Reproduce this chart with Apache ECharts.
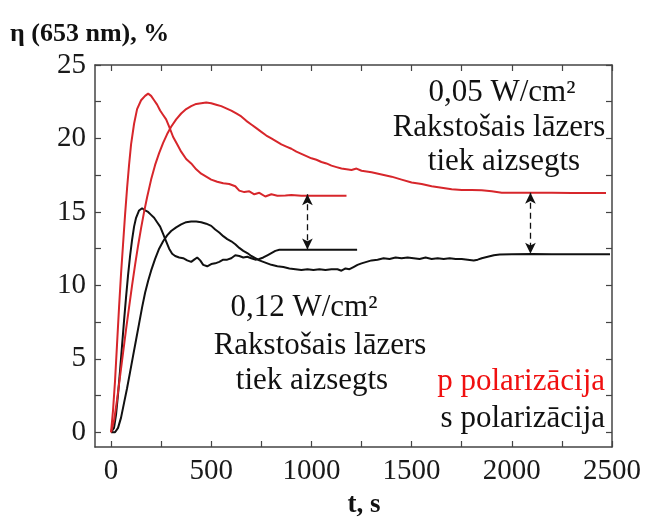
<!DOCTYPE html>
<html>
<head>
<meta charset="utf-8">
<title>η (653 nm)</title>
<script src="https://cdn.jsdelivr.net/npm/echarts@6.0.0/dist/echarts.min.js"></script>
<style>
  html, body { margin: 0; padding: 0; background: #fff; }
  #main { width: 649px; height: 524px; }
</style>
</head>
<body>
<div id="main"></div>
<script>
// axis ticks
const xLabels = [0, 500, 1000, 1500, 2000, 2500];
const xTicks = [0, 250, 500, 750, 1000, 1250, 1500, 1750, 2000, 2250, 2500];
const yLabels = [0, 5, 10, 15, 20, 25];
const yTicks = [0, 2.5, 5, 7.5, 10, 12.5, 15, 17.5, 20, 22.5, 25];

// p polarizacija, 0,12 W/cm2 (red, short)
const pFast = [[0,0],[10,1.5],[20,3.5],[30,6],[40,8.5],[50,10.8],[60,12.8],[70,14.8],[80,16.6],[90,18.2],[100,19.6],
  [115,21.0],[130,22.0],[150,22.6],[170,22.9],[185,23.05],[200,22.9],[215,22.6],[230,22.3],[245,21.9],[260,21.6],
  [275,21.3],[290,20.8],[310,20.1],[330,19.6],[350,19.1],[375,18.6],[400,18.3],[425,17.9],[450,17.6],[475,17.4],
  [500,17.2],[530,17.05],[560,16.95],[590,16.9],[620,16.75],[640,16.45],[665,16.35],[690,16.4],[715,16.2],[740,16.3],
  [770,16.05],[800,16.2],[830,16.1],[870,16.12],[900,16.15],[950,16.1],[1000,16.1],[1050,16.1],[1100,16.1],[1175,16.1]];

// p polarizacija, 0,05 W/cm2 (red, long)
const pSlow = [[0,0],[15,0.8],[30,2.2],[45,3.8],[60,5.4],[75,7.0],[90,8.5],[105,10.0],[120,11.4],[135,12.7],[150,13.9],
  [165,15.0],[180,16.0],[200,17.2],[220,18.2],[240,19.0],[260,19.7],[280,20.3],[300,20.8],[325,21.3],[350,21.7],
  [375,22.0],[400,22.2],[425,22.35],[450,22.4],[475,22.45],[500,22.4],[525,22.3],[550,22.2],[575,22.05],[600,21.9],
  [625,21.7],[650,21.5],[675,21.2],[700,20.95],[725,20.7],[750,20.45],[775,20.2],[800,20.0],[825,19.8],[850,19.6],
  [875,19.45],[900,19.3],[925,19.1],[950,18.95],[975,18.8],[1000,18.65],[1025,18.55],[1050,18.4],[1075,18.3],
  [1100,18.15],[1125,18.05],[1150,17.95],[1175,17.9],[1200,17.85],[1225,17.95],[1250,17.8],[1300,17.7],[1350,17.55],
  [1400,17.4],[1450,17.2],[1500,17.0],[1550,16.9],[1600,16.75],[1650,16.65],[1700,16.55],[1750,16.5],[1800,16.5],
  [1850,16.48],[1900,16.4],[1950,16.3],[2000,16.3],[2100,16.3],[2200,16.3],[2300,16.28],[2400,16.28],[2470,16.28]];

// s polarizacija, 0,12 W/cm2 (black, short)
const sFast = [[0,0],[15,0.3],[25,1.2],[35,2.6],[45,4.2],[55,5.9],[65,7.6],[75,9.2],[85,10.7],[95,12.0],[105,13.1],
  [115,14.0],[125,14.6],[140,15.1],[155,15.25],[170,15.1],[185,15.0],[200,14.8],[215,14.6],[230,14.3],[245,14.0],
  [260,13.5],[275,13.0],[290,12.5],[305,12.15],[320,12.0],[340,11.9],[360,11.85],[380,11.7],[400,11.6],[415,11.75],
  [430,11.9],[445,11.7],[460,11.4],[480,11.3],[500,11.45],[520,11.5],[540,11.6],[560,11.75],[580,11.75],[600,11.85],
  [620,12.05],[640,12.0],[660,11.9],[680,11.95],[700,11.85],[720,11.75],[740,11.8],[760,11.9],[780,12.05],[800,12.2],
  [820,12.35],[840,12.42],[900,12.42],[1000,12.42],[1100,12.42],[1228,12.42]];

// s polarizacija, 0,05 W/cm2 (black, long)
const sSlow = [[0,0],[20,0],[35,0.3],[50,1.0],[65,2.0],[80,3.0],[95,4.1],[110,5.2],[125,6.3],[140,7.4],[155,8.5],
  [170,9.5],[185,10.3],[200,11.0],[220,11.8],[240,12.5],[260,13.0],[280,13.4],[300,13.7],[325,13.95],[350,14.15],
  [375,14.3],[400,14.35],[425,14.35],[450,14.3],[475,14.2],[500,14.05],[520,13.8],[540,13.6],[560,13.35],[580,13.15],
  [600,13.0],[620,12.8],[640,12.55],[660,12.35],[680,12.2],[700,12.0],[720,11.85],[740,11.7],[760,11.6],[780,11.5],
  [800,11.4],[830,11.3],[860,11.25],[890,11.15],[920,11.1],[950,11.05],[980,11.1],[1010,11.05],[1040,11.1],
  [1070,11.05],[1100,11.1],[1130,11.1],[1150,11.0],[1170,11.15],[1190,11.1],[1210,11.25],[1230,11.4],[1250,11.5],
  [1275,11.6],[1300,11.7],[1330,11.75],[1360,11.85],[1390,11.8],[1420,11.9],[1450,11.85],[1480,11.9],[1510,11.85],
  [1540,11.8],[1570,11.9],[1600,11.8],[1630,11.85],[1660,11.8],[1690,11.85],[1720,11.8],[1750,11.8],[1780,11.75],
  [1810,11.7],[1830,11.75],[1850,11.85],[1880,11.95],[1910,12.05],[1940,12.1],[2000,12.12],[2100,12.13],
  [2200,12.12],[2300,12.12],[2400,12.12],[2490,12.12]];

// gap arrows: [t, top, bottom]
const gapArrows = [[980, 16.2, 12.45], [2093, 16.3, 12.15]];

var RED = "#d7262b";
var BLACK = "#111";
var FRAME = "#444";
var SERIF = "'Liberation Serif', 'Times New Roman', serif";

function frameAxis(pos, isX, showLabel) {
  var ax = {
    type: "value",
    position: pos,
    min: isX ? -80 : -1,
    max: isX ? 2500 : 25,
    axisLine: { show: true, onZero: false, lineStyle: { color: FRAME, width: 1.5 } },
    axisTick: {
      show: true, inside: true, length: 6,
      customValues: isX ? xTicks : yTicks,
      lineStyle: { color: FRAME, width: 1.2 }
    },
    axisLabel: {
      show: showLabel,
      customValues: isX ? xLabels : yLabels,
      formatter: function (v) { return String(v); },
      fontFamily: SERIF, fontSize: 29, color: "#1a1a1a",
      margin: isX ? 10 : 9
    },
    splitLine: { show: false }
  };
  return ax;
}

var chart = echarts.init(document.getElementById("main"), null, { renderer: "canvas" });
chart.setOption({
  backgroundColor: "#fff",
  animation: false,
  grid: { left: 95, right: 37, top: 65, bottom: 77, containLabel: false, outerBoundsMode: "none" },
  xAxis: [frameAxis("bottom", true, true), frameAxis("top", true, false)],
  yAxis: [frameAxis("left", false, true), frameAxis("right", false, false)],
  series: [
    {
      name: "s 0,05", type: "line", data: sSlow, showSymbol: false,
      lineStyle: { color: BLACK, width: 2 }, z: 2,
      markLine: {
        silent: true,
        symbol: ["arrow", "arrow"],
        symbolSize: [8, 11],
        label: { show: false },
        lineStyle: { color: BLACK, width: 1.3, type: [6, 4] },
        data: gapArrows.map(function (a) {
          return [{ coord: [a[0], a[1]] }, { coord: [a[0], a[2]] }];
        })
      }
    },
    { name: "s 0,12", type: "line", data: sFast, showSymbol: false, lineStyle: { color: BLACK, width: 2 }, z: 2 },
    { name: "p 0,05", type: "line", data: pSlow, showSymbol: false, lineStyle: { color: RED, width: 2 }, z: 3 },
    { name: "p 0,12", type: "line", data: pFast, showSymbol: false, lineStyle: { color: RED, width: 2 }, z: 3 }
  ],
  graphic: [
    { type: "text", x: 10, y: 34, style: { text: "η (653 nm), %", font: "bold 26px " + SERIF, fill: "#111", verticalAlign: "middle" } },
    { type: "text", x: 364, y: 505, style: { text: "t, s", font: "bold 27px " + SERIF, fill: "#111", align: "center", verticalAlign: "middle" } },
    { type: "text", x: 502, y: 93, style: { text: "0,05 W/cm²", font: "31px " + SERIF, fill: "#111", align: "center", verticalAlign: "middle" } },
    { type: "text", x: 499, y: 128, style: { text: "Rakstošais lāzers", font: "31px " + SERIF, fill: "#111", align: "center", verticalAlign: "middle" } },
    { type: "text", x: 504, y: 162, style: { text: "tiek aizsegts", font: "31px " + SERIF, fill: "#111", align: "center", verticalAlign: "middle" } },
    { type: "text", x: 304, y: 308, style: { text: "0,12 W/cm²", font: "31px " + SERIF, fill: "#111", align: "center", verticalAlign: "middle" } },
    { type: "text", x: 320, y: 346, style: { text: "Rakstošais lāzers", font: "31px " + SERIF, fill: "#111", align: "center", verticalAlign: "middle" } },
    { type: "text", x: 312, y: 381, style: { text: "tiek aizsegts", font: "31px " + SERIF, fill: "#111", align: "center", verticalAlign: "middle" } },
    { type: "text", x: 605, y: 382, style: { text: "p polarizācija", font: "31px " + SERIF, fill: "#f01010", align: "right", verticalAlign: "middle" } },
    { type: "text", x: 605, y: 419, style: { text: "s polarizācija", font: "31px " + SERIF, fill: "#111", align: "right", verticalAlign: "middle" } }
  ]
});
</script>
</body>
</html>
